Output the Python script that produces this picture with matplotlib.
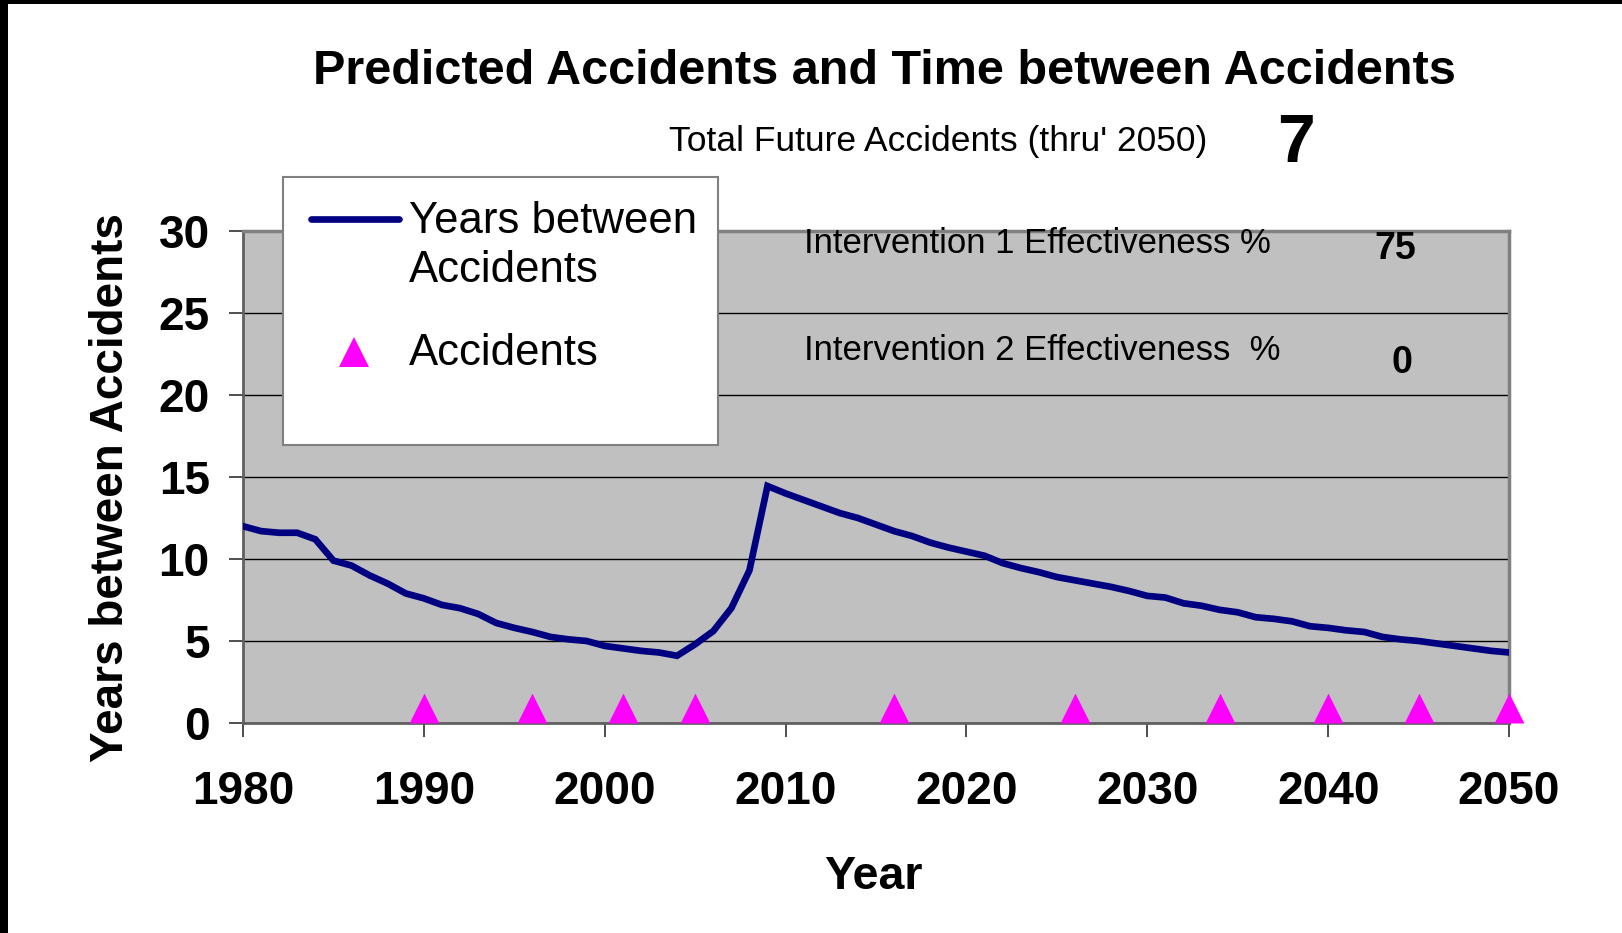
"""Predicted accidents and time between accidents, redrawn with matplotlib."""

import matplotlib
matplotlib.use("Agg")
import matplotlib.pyplot as plt
from matplotlib.lines import Line2D
from matplotlib.patches import Rectangle
from matplotlib.path import Path

plt.rcParams["font.family"] = ["Liberation Sans", "DejaVu Sans"]

# yearly model output
years = [1980, 1981, 1982, 1983, 1984, 1985, 1986, 1987, 1988, 1989,
         1990, 1991, 1992, 1993, 1994, 1995, 1996, 1997, 1998, 1999,
         2000, 2001, 2002, 2003, 2004, 2005, 2006, 2007, 2008, 2009,
         2010, 2011, 2012, 2013, 2014, 2015, 2016, 2017, 2018, 2019,
         2020, 2021, 2022, 2023, 2024, 2025, 2026, 2027, 2028, 2029,
         2030, 2031, 2032, 2033, 2034, 2035, 2036, 2037, 2038, 2039,
         2040, 2041, 2042, 2043, 2044, 2045, 2046, 2047, 2048, 2049,
         2050]
years_between = [12.0, 11.7, 11.6, 11.6, 11.2, 9.9, 9.6, 9.0, 8.5, 7.9,
                 7.6, 7.2, 7.0, 6.65, 6.1, 5.8, 5.55, 5.25, 5.1, 5.0,
                 4.7, 4.55, 4.4, 4.3, 4.1, 4.8, 5.6, 7.0, 9.3, 14.45,
                 14.0, 13.6, 13.2, 12.8, 12.5, 12.1, 11.7, 11.4, 11.0, 10.7,
                 10.45, 10.2, 9.75, 9.45, 9.2, 8.9, 8.7, 8.5, 8.3, 8.05,
                 7.75, 7.65, 7.3, 7.15, 6.9, 6.75, 6.45, 6.35, 6.2, 5.9,
                 5.8, 5.65, 5.55, 5.25, 5.1, 5.0, 4.85, 4.7, 4.55, 4.4,
                 4.3]

accident_years = [1990, 1996, 2001, 2005, 2016, 2026, 2034, 2040, 2045, 2050]
accident_values = [0, 0, 0, 0, 0, 0, 0, 0, 0, 0]

total_future = "7"
intervention_1 = "75"
intervention_2 = "0"

y_ticks = [0, 5, 10, 15, 20, 25, 30]
x_ticks = [1980, 1990, 2000, 2010, 2020, 2030, 2040, 2050]

W, H = 1622, 933
NAVY = "#000080"
MAGENTA = "#FF00FF"


def fx(px):
    return px / W


def fy(py):
    return 1 - py / H


fig = plt.figure(figsize=(W / 100, H / 100), dpi=100)
fig.patch.set_facecolor("white")

# black strips along the top and left edges of the original screenshot
fig.add_artist(Rectangle((0, fy(4)), 1, 4 / H, transform=fig.transFigure,
                         facecolor="black", edgecolor="none"))
fig.add_artist(Rectangle((0, 0), fx(8), 1, transform=fig.transFigure,
                         facecolor="black", edgecolor="none"))

ax = fig.add_axes([fx(243), fy(723), fx(1509) - fx(243), fy(231) - fy(723)])
ax.set_facecolor("#C0C0C0")

ax.plot(years, years_between, color=NAVY, linewidth=4.8,
        solid_joinstyle="miter", solid_capstyle="round", zorder=3)

# triangle whose base sits on the data point
tri = Path([(-1, 0), (1, 0), (0, 2), (-1, 0)],
           [Path.MOVETO, Path.LINETO, Path.LINETO, Path.CLOSEPOLY])
ax.plot(accident_years, accident_values, linestyle="none", marker=tri,
        markersize=43, color=MAGENTA, markeredgewidth=0, clip_on=False, zorder=4)

ax.set_xlim(1980, 2050)
ax.set_ylim(0, 30)
ax.set_xticks(x_ticks)
ax.set_yticks(y_ticks)
ax.grid(axis="y", color="black", linewidth=1.0)
ax.set_axisbelow(True)

for side in ["top", "right"]:
    ax.spines[side].set_color("#808080")
    ax.spines[side].set_linewidth(2.5)
for side in ["left", "bottom"]:
    ax.spines[side].set_color("#606060")
    ax.spines[side].set_linewidth(2.0)

ax.tick_params(axis="both", direction="out", length=10, width=1.2,
               color="#303030", labelsize=33)
ax.tick_params(axis="x", pad=24)
ax.tick_params(axis="y", pad=14)
for lbl in ax.get_xticklabels() + ax.get_yticklabels():
    lbl.set_fontweight("bold")

ax.set_xlabel("Year", fontsize=33.5, fontweight="bold", va="center")
ax.xaxis.set_label_coords(0.498, -0.313)
ax.set_ylabel("Years between Accidents", fontsize=33, fontweight="bold", va="center")
ax.yaxis.set_label_coords(-0.104, 0.478)

# title and annotation texts
fig.text(fx(884), fy(72), "Predicted Accidents and Time between Accidents",
         ha="center", va="center", fontsize=35, fontweight="bold")
fig.text(fx(669), fy(141), "Total Future Accidents (thru' 2050)",
         ha="left", va="center", fontsize=25.5)
fig.text(fx(1296), fy(144), total_future, ha="center", va="center",
         fontsize=49, fontweight="bold")
fig.text(fx(804), fy(243), "Intervention 1 Effectiveness %",
         ha="left", va="center", fontsize=25)
fig.text(fx(1395), fy(249), intervention_1, ha="center", va="center",
         fontsize=27, fontweight="bold")
fig.text(fx(804), fy(351), "Intervention 2 Effectiveness  %",
         ha="left", va="center", fontsize=25)
fig.text(fx(1402), fy(363), intervention_2, ha="center", va="center",
         fontsize=27, fontweight="bold")

# legend box, drawn by hand so the line sits on the first label row
fig.add_artist(Rectangle((fx(283), fy(445)), fx(718) - fx(283), fy(177) - fy(445),
                         transform=fig.transFigure, facecolor="white",
                         edgecolor="#808080", linewidth=1.5, zorder=5))
fig.add_artist(Line2D([fx(311), fx(399)], [fy(219), fy(219)], transform=fig.transFigure,
                      color=NAVY, linewidth=4.8, solid_capstyle="round", zorder=6))
fig.add_artist(Line2D([fx(354)], [fy(352)], transform=fig.transFigure,
                      linestyle="none", marker="^", markersize=21.5,
                      color=MAGENTA, markeredgewidth=0, zorder=6))
legend_rows = [("Years between", 233), ("Accidents", 282), ("Accidents", 365)]
for label, base in legend_rows:
    fig.text(fx(409), fy(base), label, ha="left", va="baseline",
             fontsize=31.5, zorder=7)

fig.savefig("out.png", dpi=100, facecolor="white")
